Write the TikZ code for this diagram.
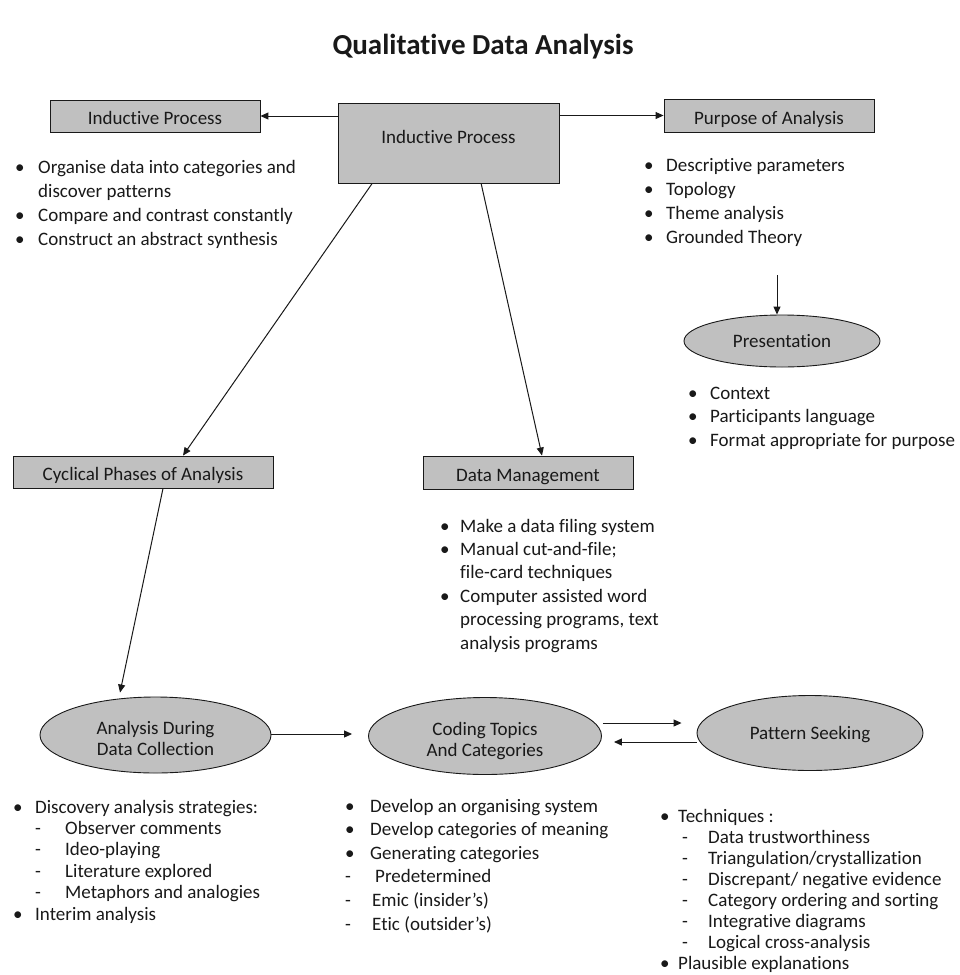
\documentclass[tikz,border=0pt]{standalone}
\usepackage{fontspec}
\setmainfont{Carlito}[Ligatures=NoCommon]
\usetikzlibrary{arrows.meta,calc,shapes.geometric}
\definecolor{boxfill}{RGB}{192,192,192}
\definecolor{ink}{RGB}{25,25,25}
\newcommand\bl[2]{\makebox[#1][l]{\textbullet}#2}
\newcommand\dl[2]{\makebox[#1][l]{-}#2}
\newcommand\twoline[2]{\raisebox{-5.5pt}[\height][\depth]{\begin{tabular}{@{}c@{}}#1\\[-1.5pt]#2\end{tabular}}}
\begin{document}
\begin{tikzpicture}[x=1pt,y=-1pt,
  every node/.style={text=ink,font=\fontsize{19}{23}\selectfont},
  box/.style={draw=ink,line width=0.9pt,fill=boxfill,rectangle,inner sep=0pt,text height=20pt,text depth=3pt},
  oval/.style={draw=ink,line width=0.9pt,fill=boxfill,ellipse,inner sep=0pt,align=center},
  lst/.style={anchor=base west,inner sep=0pt},
  arr/.style={draw=ink,line width=1pt,-{Triangle[length=8pt,width=7pt]}}]
\path[use as bounding box,fill=white] (0,0) rectangle (959,975);

\node[font=\fontsize{29}{34}\selectfont\bfseries] (title) at (483,47) {Qualitative Data Analysis};

% top boxes
\node[box,minimum width=210pt,minimum height=32pt] (ipL) at (155,116) {Inductive Process};
\node[box,minimum width=221pt,minimum height=80pt,text height=0pt,text depth=0pt] (ipC) at (448.5,143) {};
\node[inner sep=0pt] (ipCt) at (448.5,137) {Inductive Process};
\node[box,minimum width=210pt,minimum height=33pt] (poa) at (769,115.5) {Purpose of Analysis};

\draw[arr] (ipC.west |- ipL.east) -- (ipL.east);
\draw[arr] (ipC.east |- poa.west) -- (poa.west);

% top-left list
\node[lst] (lstA) at (15,173) {\fontsize{19}{24}\selectfont\begin{tabular}[t]{@{}l@{}}
\bl{23pt}{Organise data into categories and}\\
\hspace{23pt}discover patterns\\
\bl{23pt}{Compare and contrast constantly}\\
\bl{23pt}{Construct an abstract synthesis}
\end{tabular}};

% purpose list
\node[lst] (lstB) at (644,171) {\fontsize{19}{24}\selectfont\begin{tabular}[t]{@{}l@{}}
\bl{22pt}{Descriptive parameters}\\
\bl{22pt}{Topology}\\
\bl{22pt}{Theme analysis}\\
\bl{22pt}{Grounded Theory}
\end{tabular}};

% presentation
\coordinate (pstart) at (777,275);
\node[oval,minimum width=196pt,minimum height=52pt] (pres) at (782,341) {Presentation};
\draw[arr] (pstart) -- (pres.north -| pstart);

\node[lst] (lstC) at (688,399) {\fontsize{19}{23.5}\selectfont\begin{tabular}[t]{@{}l@{}}
\bl{22pt}{Context}\\
\bl{22pt}{Participants language}\\
\bl{22pt}{Format appropriate for purpose}
\end{tabular}};

% middle boxes
\node[box,minimum width=260pt,minimum height=32pt] (cyc) at (143,472) {Cyclical Phases of Analysis};
\node[box,minimum width=210pt,minimum height=33pt] (dm) at (528,472.5) {Data Management};

\draw[arr] ($(ipC.south west)!0.156!(ipC.south east)$) -- ($(cyc.north)+(40,0)$);
\draw[arr] ($(ipC.south west)!0.647!(ipC.south east)$) -- ($(dm.north)+(14,0)$);

\node[lst] (lstD) at (440,532) {\fontsize{19}{23.4}\selectfont\begin{tabular}[t]{@{}l@{}}
\bl{20pt}{Make a data filing system}\\
\bl{20pt}{Manual cut-and-file;}\\
\hspace{20pt}file-card techniques\\
\bl{20pt}{Computer assisted word}\\
\hspace{20pt}processing programs, text\\
\hspace{20pt}analysis programs
\end{tabular}};

% bottom ovals
\node[oval,minimum width=231pt,minimum height=76pt] (adc) at (155.5,735) {\twoline{Analysis During}{Data Collection}};
\node[oval,minimum width=233pt,minimum height=77pt] (cod) at (485,736) {\twoline{Coding Topics}{And Categories}};
\node[oval,minimum width=226pt,minimum height=75pt] (pat) at (810,733) {\raisebox{-2pt}[\height][\depth]{Pattern Seeking}};

\coordinate (codin) at ($(cod.west)+(-16,-2)$);
\draw[arr] ($(cyc.south)+(20,0)$) -- ($(adc.north)+(-35.5,-4)$);
\draw[arr] (adc.east |- codin) -- (codin);
\draw[arr] ($(cod.east)+(1,-13)$) -- ($(pat.west)+(-15,-10)$);
\draw[arr] ($(pat.west)+(0,9)$) -- ($(cod.east)+(12,6)$);

% bottom lists
\node[lst] (lstE) at (13,813) {\fontsize{19}{21.4}\selectfont\begin{tabular}[t]{@{}l@{}}
\bl{22pt}{Discovery analysis strategies:}\\
\hspace{22pt}\dl{30pt}{Observer comments}\\
\hspace{22pt}\dl{30pt}{Ideo-playing}\\
\hspace{22pt}\dl{30pt}{Literature explored}\\
\hspace{22pt}\dl{30pt}{Metaphors and analogies}\\
\bl{22pt}{Interim analysis}
\end{tabular}};

\node[lst] (lstF) at (345,812) {\fontsize{19}{23.6}\selectfont\begin{tabular}[t]{@{}l@{}}
\bl{25pt}{Develop an organising system}\\
\bl{25pt}{Develop categories of meaning}\\
\bl{25pt}{Generating categories}\\
\dl{30pt}{Predetermined}\\
\dl{27pt}{Emic (insider’s)}\\
\dl{27pt}{Etic (outsider’s)}
\end{tabular}};

\node[lst] (lstG) at (660,822) {\fontsize{19}{21}\selectfont\begin{tabular}[t]{@{}l@{}}
\bl{18pt}{Techniques :}\\
\hspace{22pt}\dl{26pt}{Data trustworthiness}\\
\hspace{22pt}\dl{26pt}{Triangulation/crystallization}\\
\hspace{22pt}\dl{26pt}{Discrepant/ negative evidence}\\
\hspace{22pt}\dl{26pt}{Category ordering and sorting}\\
\hspace{22pt}\dl{26pt}{Integrative diagrams}\\
\hspace{22pt}\dl{26pt}{Logical cross-analysis}\\
\bl{18pt}{Plausible explanations}
\end{tabular}};
\end{tikzpicture}
\end{document}
